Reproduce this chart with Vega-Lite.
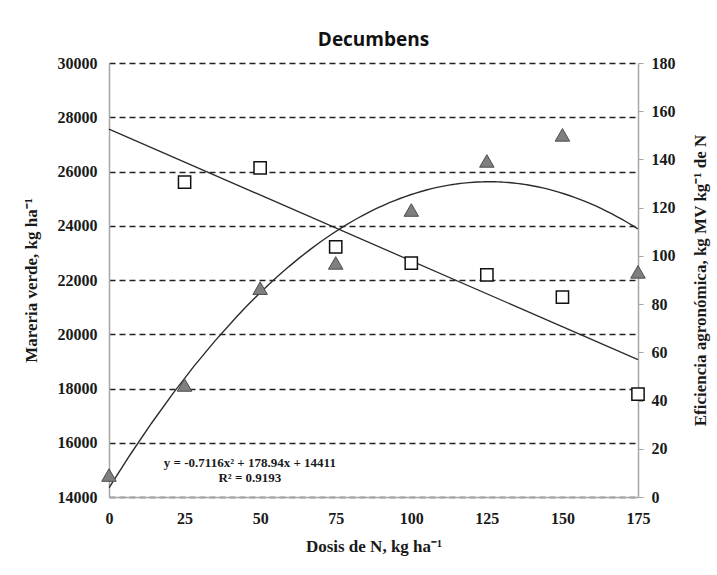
{
  "$schema": "https://vega.github.io/schema/vega-lite/v6.json",
  "width": 529,
  "height": 434,
  "autosize": {"type": "none"},
  "padding": {"left": 109, "top": 63, "right": 79, "bottom": 78},
  "background": "white",
  "config": {
    "view": {"stroke": null},
    "axis": {"labelFont": "Liberation Serif", "labelFontWeight": "bold", "labelColor": "#1a1a1a", "titleFont": "Liberation Serif", "titleFontWeight": "bold", "titleColor": "#1a1a1a"}
  },
  "title": {"text": "Decumbens", "font": "Open Sans", "fontWeight": "bold", "fontSize": 19, "color": "#111", "offset": 5},
  "datasets": {
    "materia": [
      {"dosis": 0, "mv": 14810},
      {"dosis": 25, "mv": 18130},
      {"dosis": 50, "mv": 21700},
      {"dosis": 75, "mv": 22630},
      {"dosis": 100, "mv": 24580},
      {"dosis": 125, "mv": 26390},
      {"dosis": 150, "mv": 27350},
      {"dosis": 175, "mv": 22300}
    ],
    "eficiencia": [
      {"dosis": 25, "ea": 130.6},
      {"dosis": 50, "ea": 136.5},
      {"dosis": 75, "ea": 103.7},
      {"dosis": 100, "ea": 97.0},
      {"dosis": 125, "ea": 92.1},
      {"dosis": 150, "ea": 82.9},
      {"dosis": 175, "ea": 42.7}
    ]
  },
  "layer": [
    {
      "data": {"name": "materia"},
      "encoding": {
        "x": {"field": "dosis", "type": "quantitative", "scale": {"domain": [0, 175], "nice": false},
          "axis": {"values": [0, 25, 50, 75, 100, 125, 150, 175], "title": "Dosis de N, kg ha⁻¹", "grid": false, "ticks": false, "labelFlush": false, "labelPadding": 13, "labelFontSize": 16, "titleFontSize": 17, "titlePadding": 12, "domainColor": "#a6a6a6", "domainWidth": 1.5}},
        "y": {"field": "mv", "type": "quantitative", "scale": {"domain": [14000, 30000], "nice": false, "zero": false},
          "axis": {"orient": "left", "values": [14000, 16000, 18000, 20000, 22000, 24000, 26000, 28000, 30000], "format": "d", "title": "Mareria verde,  kg ha⁻¹", "grid": true, "gridDash": [6, 4], "gridColor": "#222", "gridWidth": 1.3, "ticks": false, "labelFlush": false, "labelPadding": 12, "labelFontSize": 16, "titleFontSize": 17, "titlePadding": 17, "domainColor": "#a6a6a6", "domainWidth": 1.5}}
      },
      "layer": [
        {
          "transform": [{"regression": "mv", "on": "dosis", "method": "poly", "order": 2, "extent": [0, 175]}],
          "mark": {"type": "line", "color": "#2b2b2b", "strokeWidth": 1.4, "clip": true}
        },
        {
          "mark": {"type": "point", "shape": "triangle-up", "size": 210, "filled": true, "fill": "#7f7f7f", "stroke": "#4d4d4d", "strokeWidth": 1, "opacity": 1}
        },
        {
          "data": {"values": [{"dosis": 46.6, "mv": 15250, "label": "y = -0.7116x² + 178.94x + 14411"}, {"dosis": 46.6, "mv": 14700, "label": "R² = 0.9193"}]},
          "mark": {"type": "text", "font": "Liberation Serif", "fontWeight": "bold", "fontSize": 13, "color": "#1a1a1a", "align": "center", "baseline": "middle"},
          "encoding": {"text": {"field": "label"}}
        }
      ]
    },
    {
      "data": {"name": "eficiencia"},
      "encoding": {
        "x": {"field": "dosis", "type": "quantitative", "scale": {"domain": [0, 175], "nice": false}},
        "y": {"field": "ea", "type": "quantitative", "scale": {"domain": [0, 180], "nice": false},
          "axis": {"orient": "right", "values": [0, 20, 40, 60, 80, 100, 120, 140, 160, 180], "title": "Eficiencia agronómica, kg MV kg⁻¹ de N", "grid": false, "ticks": true, "tickSize": 5, "tickColor": "#a6a6a6", "labelFlush": false, "labelPadding": 8, "labelFontSize": 16, "titleFontSize": 17, "titleAngle": -90, "titlePadding": 34, "domainColor": "#a6a6a6", "domainWidth": 1.5}}
      },
      "layer": [
        {
          "transform": [{"regression": "ea", "on": "dosis", "method": "linear", "extent": [0, 175]}],
          "mark": {"type": "line", "color": "#2b2b2b", "strokeWidth": 1.3}
        },
        {
          "mark": {"type": "point", "shape": "square", "size": 150, "filled": true, "fill": "white", "stroke": "#111", "strokeWidth": 1.5, "opacity": 1}
        }
      ]
    }
  ],
  "resolve": {"scale": {"y": "independent"}}
}
